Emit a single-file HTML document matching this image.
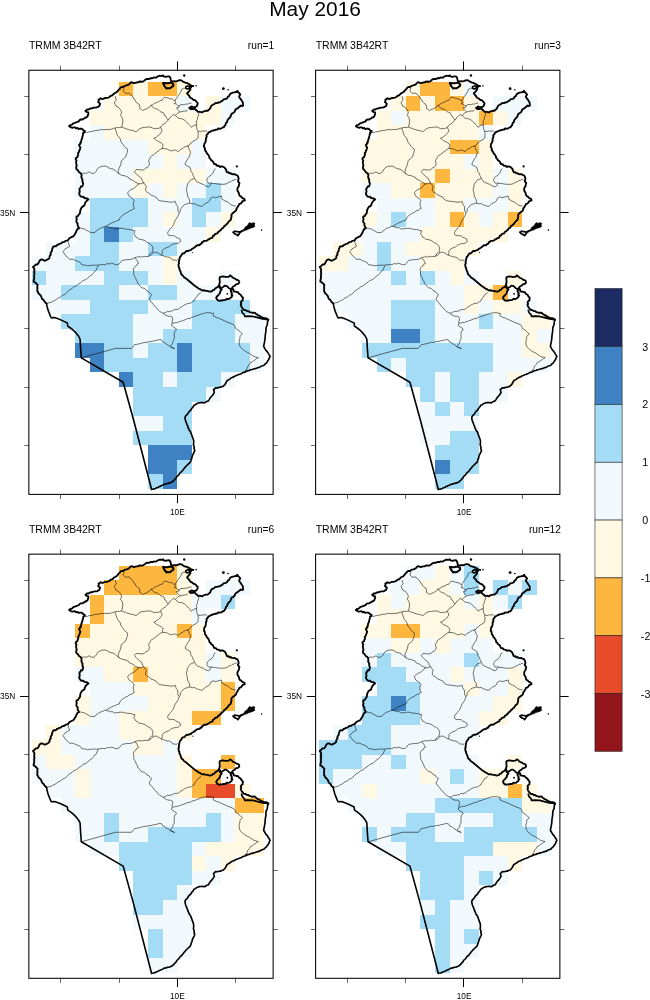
<!DOCTYPE html>
<html><head><meta charset="utf-8"><title>May 2016</title>
<style>
html,body{margin:0;padding:0;background:#fff;}
svg{display:block;}
text{font-family:"Liberation Sans",Arial,Helvetica,sans-serif;fill:#000;}
</style></head>
<body>
<svg width="650" height="1000" viewBox="0 0 650 1000">
<rect width="650" height="1000" fill="#fff"/>
<defs>
<g id="coast" fill="none" stroke="#000" stroke-linejoin="round" stroke-linecap="round">
<path d="M69.3,126.2 70.13,125.1 71.62,124.86 72.62,123.99 73.6,123.06 74.92,122.8 76.13,122.26 77.45,121.83 78.75,121.33 79.67,120.1 80.87,119.42 82.46,119.53 83.51,118.56 84.66,118.45 85.41,117.33 86.6,117.33 87.61,116.27 87.99,114.77 88.48,113.62 88.25,112.4 86.49,111.89 85.44,110.98 87.26,109.41 88.55,109.57 89.67,108.77 90.86,108.37 92.13,108.32 93.49,107.65 94.97,107.55 96.45,107.48 97.49,107.13 98.41,106.47 99.44,106.06 99.57,105.01 100.11,103.84 99.18,102.93 98.17,102.04 98.89,100.65 98.61,99.54 99.72,99.17 100.64,98.26 102,99.04 103.23,98.91 104.46,98.17 105.64,97.98 106.99,97.94 108.22,97.52 109.6,97 110.58,95.86 112.01,95.52 113.17,94.55 114.2,93.43 115.59,92.84 116.84,92.01 117.84,90.96 118.62,89.69 119.7,88.94 120.38,87.69 121.53,87.03 123.01,87.1 124.12,86.33 125.28,85.69 126.64,85.43 127.94,84.95 129.16,84.31 130.04,83.14 131.13,82.26 132.58,82.62 133.94,83.19 135.23,82.79 136.45,82.51 137.69,82.45 138.86,81.84 140.02,81.5 141.44,81.76 142.76,81.66 143.88,80.92 144.97,80.08 146.04,79.23 147.38,78.86 148.72,79.04 149.91,78.55 151.09,78.04 152.42,78.26 153.67,77.53 155,77.7 156.36,77.52 157.34,76.61 158.46,76.23 159.57,75.78 160.78,75.82 162.01,75.99 163.03,75.37 163.76,76.42 164.75,76.66 165.69,76.92 166.78,76.58 167.75,76.45 168.65,76.36 169.61,76.6 170.45,78.05 170.82,80 171.28,81.41 172.87,81.41 174.27,81.24 175.58,81.35 176.92,81.14 178.23,80.63 179.58,80.23 181.54,80.42 183.01,81.64 184.18,82.22 185.4,82.65 186.75,82.85 187.81,83.61 188.95,83.93 189.97,84.7 190.83,85.34 191.81,85.66 193.39,86.06 192.2,85.85 191.23,86.77 189.47,87 189.64,88.3 190.41,89.15 189.24,91.06 188.03,92.26 187.06,93.4 188.3,94.89 189.54,96.31 189.91,97.4 190.88,97.97 192,98.51 192.9,99.35 193.64,100.03 194.74,100.07 195.7,100.77 196.43,101.72 197.73,103.05 197.67,104.07 197.34,105.01 196.49,106.49 195.06,107.01 194.7,108.48 195.66,109.86 197.15,110.84 197.74,111.91 198.85,111.93 200.03,111.75 201.14,112.26 202.34,112.35 203.41,111.44 204.88,111.07 206.18,110.7 207.69,110.72 208.8,109.68 209.71,109.08 210.31,108.04 210.81,106.94 211.47,105.52 213,104.75 213.75,104.33 214.67,103.66 215.59,102.97 217.16,103.05 218.54,102.47 220.02,102.32 221.03,101.4 222.32,100.96 223.15,99.78 224.5,99.16 226.11,98.9 227.29,98 227.76,96.73 228.97,96.3 229.41,95.1 230.57,93.52 231.44,93.31 232.6,92.69 234.13,92.4 235.65,92.03 236.84,92.15 237.27,90.8 238.25,92.21 239.08,93.12 239.62,93.72 240.31,94.52 239.45,95.8 239.16,97.01 239.98,98.2 240.69,99.13 241.34,100.09 241.98,101.1 242.72,102.05 242.93,103.32 243.02,104.47 243.13,105.72 241.73,106.09 240.62,105.52 239.72,106.67 238.57,107.33 237.65,108.29 236.25,108.91 235.2,109.92 234.8,111.57 233.92,112.34 233.05,113.19 231.78,113.69 231.16,114.74 230.69,116.24 229.98,117.55 228.77,118.52 228.01,119.53 227.31,120.56 227.21,121.92 226.13,122.73 225.68,124.07 225.25,125.39 224.19,126.4 223.82,127.34 222.66,127.4 221.45,128.41 219.99,128.74 218.35,128.43 217.34,129.59 215.9,129.58 214.73,130.22 213.48,130.18 212.33,130.85 211.11,131.08 209.98,132.01 208.4,132.48 207.91,133.74 207,134.59 206.44,135.65 206.71,137.2 205.9,138.29 205.92,139.67 205.71,141.07 205.39,142.5 204.32,143.78 204.17,145.27 203.91,146.72 204.79,147.95 204.94,149.27 205.19,150.55 206.19,151.64 206.63,152.95 207.56,154.03 208.48,155.15 209.14,156.49 209.44,158.07 210.54,158.91 211.08,160.16 212.26,160.89 213.22,161.81 213.65,163.15 214.43,164.2 215.99,164.29 216.65,165.53 218,165.75 219.08,165.96 220.15,166.96 221.55,166.38 223.02,166.7 224.5,167.57 225.1,168.28 225.88,169.4 226.26,170.52 226.62,171.66 227.32,172.39 228.58,172.2 229.31,173.36 230.72,173.15 231.81,174.02 233.06,174.25 234.25,174.07 235.29,174.44 236.24,175.06 237.38,175.36 238,176.44 238.54,177.84 238.57,179.38 237.91,181.01 238.89,182.42 239.49,183.16 239.19,184.12 238.9,185.2 238.73,186.31 237.67,187.63 237.37,189.16 237.49,190.81 238.47,192.28 238.95,193.41 239.2,194.82 239.79,195.93 240.92,196.44 241.64,197.36 242.9,198.28 244.37,198.89 244.81,200.33 243.66,200.8 242.44,201.17 241.8,202.4 240.72,203.51 239.27,203.96 238.73,205.27 237.94,206.39 237.33,207.63 236.47,208.49 236.33,209.8 235.79,210.87 234.49,211.83 233.26,212.77 232.12,213.67 231.34,214.88 231.5,216.66 231.1,218.19 230.65,219.99 229.64,220.81 228.63,221.67 227.86,222.81 227.21,223.78 226.23,224.44 225.53,225.38 224.37,225.86 223.89,227.02 223.07,227.84 221.84,228.48 221.29,229.72 220.08,230.44 219.29,231.45 218.03,231.98 217.45,233.35 216.2,233.69 215.03,234.05 214.37,235.28 212.87,235.88 212.57,237.58 210.91,238.08 209.56,238.84 208.52,239.33 207.44,240.22 206.27,240.83 205.12,240.86 203.95,240.89 203.16,241.88 201.98,242.23 201.69,243.58 200.33,243.86 199.72,245.04 198.53,245.25 197.22,245.17 196.17,246.12 195.08,246.86 194.1,247.73 192.97,248.4 191.77,249.06 190.76,250.14 189.41,250.32 188.26,250.99 186.85,250.88 185.81,251.55 185,252.52 184.07,253.29 182.7,253.41 181.99,254.34 181.35,255.35 180.73,256.39 179.85,257.25 179.58,258.48 179.31,259.72 179.04,260.96 178.78,262.21 179.03,263.38 178.4,264.62 178.63,265.85 178.73,267.09 179.47,268.22 179.43,269.51 180.12,270.64 180.62,271.86 180.99,273.14 181.33,274.46 182.49,275.22 183.31,276.25 184.18,277.41 185.47,278.17 186.66,279.03 195,286 196.21,286.84 197.46,287.64 198.61,288.58 199.95,289.02 201.07,289.86 202.28,290.52 203.85,290.25 205.25,290.71 206.69,290.9 207.41,290.89 208.48,291.26 209.61,291.6 210.9,291.54 212.05,291.17 212.97,289.99 214.3,289.75 215.13,288.47 216.3,287.72 217.32,287.12 218.38,286.39 219.04,285.1 219.56,286.83 220.03,288.23 221.69,289.51 220.79,290.68 220.07,291.76 220.12,292.93 219.43,293.78 218.27,295.24 216.86,296.46 216.19,297.99 217.37,299.86 218.42,300.59 219.58,300.83 220.77,300.45 221.92,300.52 222.99,300.12 224.25,300.07 225.65,299.86 226.8,298.8 228.32,299.02 229.68,298.67 230.5,297.75 231.55,297.32 231.61,296.22 232.52,295.47 231.5,294.59 231.99,293.28 231.44,292.39 230.89,291.49 230.73,290.53 231.56,289.7 232.3,288.71 233.34,289.36 233.6,291.27 234.74,291.68 235.74,291.7 236.86,292.12 238.1,292.26 238.77,293.41 239.71,294.22 240.86,294.74 241.3,295.96 242.18,296.9 242.99,297.93 242.67,299.26 242.68,300.44 241.36,301.35 240.74,302.48 241.34,303.91 240.67,304.98 241.05,305.94 241.52,306.85 242.08,307.76 242.89,308.69 243.71,309.82 245.27,309.97 246.14,310.48 247.07,311.1 248.25,311.09 249.58,312.05 251.12,312.41 252.37,312.9 253.77,312.54 255.04,312.87 255.9,313.83 256.99,314.33 257.72,315.3 259.1,315.52 260.16,316.44 261.35,317.07 262.57,317.6 264,318.19 265.55,318.18 267,318.54 268.28,319.84" stroke-width="1.85"/>
<path d="M268.48,319.54 267.83,321.02 267.4,322.56 267.42,324.11 266.99,325.54 266.22,326.87 266.06,328.55 265.89,330.2 265.87,331.86 265.51,333.48 265.3,335.12 265.11,336.76 265.12,338.43 264.78,340.05 264.59,341.7 264.22,343.32 263.88,344.95 263.7,346.59 264.52,347.86 265.18,349.07 265.87,350.26 266.77,351.19 267.59,352.21 268.24,353.37 269.23,354.87 270.13,356.43 269.28,357.93 268.84,359.54 268,360.55 267.31,361.68 266.57,362.77 265.21,363.91 264.05,365.21 262.69,365.69 261.35,366.08 260.19,366.84 259.06,367.53 257.7,367.66 256.49,368.17 255.27,368.66 253.62,368.98 251.99,369.46 250.34,369.86 249.08,370.55 247.65,370.73 246.33,371.22 245.14,372.07 243.8,372.32 242.57,372.86 241.39,373.5 240.14,373.99 238.92,374.53 237.61,374.85 236.46,375.57 235.17,375.94 233.83,376.89 232.27,377.4 230.83,378.13 229.7,379.15 228.44,379.92 227.11,380.6 226.21,382.25 225.39,383.85 224.25,385.18 222.98,386.37 221.66,386.63 220.51,387.29 219.17,387.35 217.4,387.84 215.52,387.71 214.68,388.84 213.53,389.46 213.9,391.07 214.31,392.46 213.38,394 212.4,395.5 211.2,396.74 210.07,398.07 209.2,399.62 208.14,401.08 206.83,401.41 205.67,402.09 204.54,402.87 202.62,402.52 200.77,402.57 199.2,402.72 197.71,403.32 196.4,403.8 195.34,404.83 193.96,405.31 193.32,406.52 192.57,407.61 191.54,408.5 191.08,409.8 189.89,410.91 188.74,412.04 187.95,413.46 187.02,414.7 185.81,415.73 185.05,417.1 185.09,418.94 185.61,420.75 186.06,422.18 186.76,423.58 187.15,425.11 187.89,426.24 187.94,427.62 188.84,428.69 188.97,430.04 189.98,430.9 190.59,432 191.07,433.19 193.5,440 193.67,441.53 193.66,443.07 193.4,444.6 193.83,446.04 194.27,447.46 194.08,449 194.77,450.37 194.24,451.94 193.52,453.33 192.82,454.73 192.19,456.16 191.91,457.84 191.23,459.38 190.8,461.01 190.02,462.51 188.68,463.62 187.46,464.85 186.17,466.01 185.29,467.14 184.33,468.19 183.46,469.32 182.63,470.47 181.69,471.58 180.51,472.46 179.6,473.6 178.88,474.69 177.92,475.61 176.93,476.5 176.2,477.97 174.99,479.05 174.04,480.34 172.97,481.12 172.06,482.09 170.78,482.59 169.41,483.19 167.84,483.33 166.63,483.71 165.44,484.19 164.14,484.22 162.99,484.97 161.78,485.56 160.56,486.12 159.3,486.61 158.1,487.31 156.74,487.76 155.54,488.49 154.19,488.96 152.93,489.14 151.57,489.3" stroke-width="1.65"/>
<path d="M151.6,489.54 133.6,420 123.2,382.2 81.3,357.85 80.92,352.62 80.55,347.69 80.31,342.77 80.06,339.08 78.46,336 76,332.92 73.54,330.46 70.46,328 67.75,326.15 67.38,323.08 64.92,321.85 61.85,320.37 58.15,318.77 54.46,317.54 51.38,317.91 50.52,316.31 49.29,313.23 48.06,310.15 47.08,306.46 46.46,303.38" stroke-width="1.6"/>
<path d="M46.46,303.38 45.43,302.52 44.51,301.58 43.92,300.37 42.91,299.5 42.02,298.53 41.46,297.29 41.05,295.94 40.13,294.99 39.29,293.98 38.3,293.26 38.05,292.09 37.28,291.18 37.34,289.5 37.46,287.95 37.26,286.52 37.65,284.84 36.54,283.77 35.6,282.86 34.8,282.02 33.56,281.59 33.78,279.82 34.28,278.33 34.2,276.74 34.13,275.19 34.52,273.78 34.12,272.05 34.44,270.6 34.32,269.06 33.73,267.97 32.99,266.98 34.75,265.61 35.79,264.54 37.45,264.52 38.45,263.14 39.12,261.72 39.84,260.34 41.25,259.47 42.76,259.67 43.87,260.39 45.12,260.79 46.46,259.98 47.66,259.4 48.68,258.82 49.5,257.95 49.52,256.69 49.96,255.49 50.85,254.63 50.55,253.32 50.96,252.29 51.94,250.95 52.04,249.32 52.65,248.16 52.95,246.91 54.28,246.28 55.86,246.41 56.79,245.09 58.11,244.71 59.25,243.95 60.68,243.68 61.74,242.71 63.01,242.12 64.41,241.9 65.46,240.93 66.79,240.57 68.22,240.06 69.01,238.59 70.22,237.75 71.54,237.09 73.09,236.48 74.22,235.32 74.87,233.84 75.86,232.67 76.13,231.43 76.82,230.3 77.51,228.95 78.97,228.36 78.53,227.18 77.96,226.34 77.65,225.05 77.69,223.49 76.45,222.09 76.41,220.5 76.77,218.83 76.27,217.33 76.86,216.4 78.16,215.85 78.87,214.38 79.94,213.27 80.18,211.3 80.5,209.76 81.18,208.29 81.9,207.13 83,206.38 84.37,205.51 84.78,203.9 85.45,202.48 86.41,201.27 87.24,200.25 88.49,199.48 87.28,198.56 85.79,198.23 84.2,197.99 83.46,196.74 82.23,196.85 81.12,196.64 80.07,195.52 79.27,194.41 79.3,192.92 79.81,191.69 79.47,190.11 79.54,188.57 80.61,187.57 81.01,186.39 82.43,186.32 82.87,184.98 82.98,184.18 83.1,183.05 82.37,181.56 82.56,179.89 81.82,178.46 81.35,176.96 81.64,175.68 81.39,174.41 80.56,173.03 79.25,172.39 78.36,171.05 77.5,169.95 76.31,168.92 76.16,167.29 76.68,165.8 76.46,164.66 76.23,163.43 76.05,162.19 76.49,160.57 75.58,159.12 76.08,157.85 77.39,157.22 77.6,156.03 78.33,154.56 78.05,152.9 78.93,152.05 79.11,150.93 79.65,149.96 80.1,148.71 80.36,147.38 79.5,146.3 79.11,145.03 80.33,143.86 80.98,142.64 80.04,143.8 80.51,142.59 81.03,141.41 81.38,140.2 81.62,139.18 82.19,138.22 82.34,137.09 82.77,135.57 83.1,134.04 83.25,132.87 84.36,132.14 84.92,131.13 83.24,130.24 82.45,129.12 81.21,128.76 79.9,128.67 78.53,129.03 77.46,127.95 76.08,128.46 75.01,127.39 73.72,127.44 72.37,127.79 71.16,127.43 70.03,126.73 69.35,126.15" stroke-width="1.85"/>
<path d="M163.08,83.08 163.47,84.04 163.98,84.95 164.35,86 165.13,86.84 165.78,87.6 166.35,88.52 167.71,88.14 168.86,88.35 170.03,88.18 171.07,87.45 171.86,86.77 172.98,86.29 173.43,85.28 173.36,84.2 172.18,83.21 171.4,82.61 170.36,82.79 169.22,82.9 168.07,83.17 166.91,83.3 165.74,83.29 164.26,83.1 163.11,82.97Z" stroke-width="2.0" fill="none"/>
<path d="M185.77,86.77 186.88,86.24 188.08,86 189.34,85.95 190.52,86.5 191,87.34 189.75,88.67 188.51,88.59 187.32,89.06 185.73,88.05 185.91,86.78Z" stroke-width="1.6" fill="none"/>
<path d="M189.3,107.9 190.77,107.13 191.57,106.53 192.61,106.83 194.2,107.19 194.14,108.35 192.82,109.05 191.7,108.75 190.6,109.2 189.49,107.67Z" stroke-width="1.9" fill="none"/>
<path d="M219.62,277.31 220.61,276.91 221.64,276.59 222.89,276.43 224.22,276.67 225.54,276.99 226.92,276.93 228.11,276.79 229.26,276.51 229.82,275.46 230.72,275.72 231.64,276.37 232.53,277.56 233.77,278.2 235.27,278.73 236.47,279.75 237.78,280.02 238.89,280.69 239.07,281.72 239.39,282.66 237.82,284.02 236.73,284.23 235.74,284.54 235.08,285.46 234.16,286.08 232.52,287.08 231.73,288.65 230.42,288.98 229.09,288.28 227.75,286.84 226.12,285.81 224.62,285.66 223.55,286.66 222.19,287.57 220.73,287.93 219.6,286.94 219.62,285.92 219.07,285.03 219.33,283.83 219.89,282.74 219.65,281.51 219.79,280.35 219.53,278.88 219.72,277.3Z" stroke-width="1.8" fill="none"/>
<path d="M233,232.23 234.04,231.99 234.75,231.12 236.08,231.5 237.31,231.61 238.68,231.96 240.08,231.67 241.14,231.19 242.25,230.73 241.36,231.67 240.21,232.37 239.43,233.48 238.74,234.61 237.76,235.66 236.84,234.65 235.78,234.35 234.26,233.41 233.02,232.21Z" stroke-width="1.7" fill="none"/>
<path d="M242.54,230.69 243.27,229.46 244.59,228.72 244.83,227.5 245.74,226.77 246.76,226.08 247.74,225.27 248.47,223.85 249.42,222.64 250.45,223.04 251.4,223.39 252.47,223 253.44,222.71 254.88,223.43 254.22,224.88 254.92,226.27 253.64,227.22 251.94,227.78 250.2,228.35 248.98,228.71 247.85,229.41 246.61,229.91 245.25,230.27 244.31,230.84 243.25,231.19 242.37,230.89Z" stroke-width="0.7" fill="#000"/>
<path d="M245.31,228.85 247.77,227.31 249.62,225.46 252.08,224.23 253.92,223.62" stroke-width="1.6"/>
<path d="M241.52,310.31 242.38,312.77 244.23,314.62 244.85,316.46 247.92,316.22 252.85,316.46 257.77,317.69 262.69,318.92 267.62,319.54" stroke-width="1.7"/>
<circle cx="184.23" cy="75.54" r="1.2" fill="#000" stroke="none"/>
<circle cx="196.15" cy="85.77" r="0.8" fill="#000" stroke="none"/>
<circle cx="223.38" cy="88.71" r="1.4" fill="#000" stroke="none"/>
<circle cx="228.06" cy="89.69" r="0.8" fill="#000" stroke="none"/>
<circle cx="236.85" cy="166.46" r="1.1" fill="#000" stroke="none"/>
<circle cx="261.62" cy="230.08" r="0.8" fill="#000" stroke="none"/>
<circle cx="192.83" cy="252.31" r="0.6" fill="#000" stroke="none"/>
<circle cx="227.31" cy="293.85" r="0.9" fill="#000" stroke="none"/>
</g>
<g id="gov" fill="none" stroke="#111" stroke-width="0.6" stroke-linejoin="round">
<path d="M123.85,86.92 123.78,88.91 123.12,90.78 124.06,92.1 125.25,93.21 127.3,93.29 129.23,93.02 130.19,94.42 131.52,95.4 133.02,97.11 133.88,99.21 135.29,100.1 135.87,101.81 137.41,103.36 139.33,104.52 139.78,106.51 139.76,108.51 141.34,109.43 142.51,110.57 144.13,109.74 146.1,109.1 147.76,108.17 149.48,107.25 150.61,105.56 152.56,104.95 154.26,103.51 156.34,102.62 158.4,101.89 160.05,100.64 162.05,100.37 163.15,98.62 164.46,97.16 166.63,97.61 168.44,98.17 170.29,98.68 172.26,99.05 173.45,100.07 174.81,100.59 176.15,98.68 177.66,96.52 179.2,94.29 180.78,92.12 181.57,89.45 183.73,88.27 185.65,88.18"/>
<path d="M115.38,96.15 115.69,98.09 116.42,99.95 115.01,101.35 114.28,102.91 115.41,104.6 116.02,106.22 117.84,107.1 119.38,108.26 120.54,109.89 121.4,111.64 121.41,113.51 120.35,115.3 121.9,117.16 122.57,119.13 122.91,121.11 122.53,123.11 122.27,125.04 121.56,126.93"/>
<path d="M84.62,133.08 86.08,132.39 87.72,132.41 89.16,131.64 90.82,131.73 92.84,131.23 94.85,130.62 96.94,130.41 98.98,130.16 100.99,129.49 103.08,129.72 105.14,129.64 107.18,129.4 109.26,129.57 111.32,129.08 113.31,128.4 115.34,127.91 117.37,127.41 119.54,127.6 121.57,127.09 123.42,127.78 125.4,128.41 127.3,129.23 129.32,129.77 131.15,130.41 133.14,130.46 134.59,131.26 136.12,131.65 137.78,130.51 139.09,129.05 141.02,128.12 143.02,127.55 144.64,127.6 146.15,127.19 147.73,127.14 150,126.95 152.34,127.86 153.58,128.75 155.17,128.58 156.42,128.37 157.86,128.48 159.27,128.05 160.6,127.41 161.59,125.65 162.66,124.66 163.94,123.9 165.22,123.13 166.34,122.16 168.1,120.18"/>
<path d="M115.38,128.15 115.34,129.94 116.19,131.53 116.74,133.53 117.49,135.46 119.07,137.17 120.33,139.03 120.68,141.19 121.86,142.95 123.15,144.54 124.37,146.4 125.75,147.91 127.64,149 127.6,150.81 127.32,152.33 126.63,153.82 126.14,155.99 124.83,157.82 123.29,159.13 121.74,160.27 121.13,161.53 121.05,163.15 120.46,165.02 119.79,166.88 118.89,168.76 118.22,170.8 118.45,172.4 119.17,173.87"/>
<path d="M151.39,104.85 152.22,106.5 153.43,107.83 155.45,108.73 157.5,109.25 158.86,110.27 160.05,111.48 161.42,112.26 163.12,112.31 164.1,113.92 164.47,115.67 165.96,116.41 166.51,117.87 168.14,120.01"/>
<path d="M168.01,120.09 169.2,119.15 169.74,117.7 170.98,116.79 172.02,115.72 173.47,114.4 175.28,115.69 176.45,114.43 177.51,113.38 179.47,112.13 181.94,111.53 184.16,111 186.5,110.99 187.79,109.82"/>
<path d="M174.93,100.24 175.67,102.61 174.21,103.68 176.2,103.97 177.59,105.23 179.42,106.04 180.71,104.52 183.29,104.66 184.64,104.57 185.99,103.93 187.5,104.25 188.75,103.35 190.16,103.2 191.57,103.15"/>
<path d="M179.55,105.78 178.81,107.29 176.76,107.55 177.35,109.24 178.51,110.47 179.56,111.77"/>
<path d="M175.39,115.47 177.05,117.12 178.08,118.05 179.44,118.56 180.97,118.6 182.38,118.97 184.77,120.32 186.74,122.13 188.5,124.06 190.36,125.9 191.37,127.27 193.28,125.84 195.12,124.92 196.34,125.04 196.77,123.38 196.28,121.87 196.7,120.52 197.52,119.23 197.46,117.74 198.12,116.43 198.55,115.05 198.88,113.65 198.55,112.45"/>
<path d="M196.17,124.7 196.6,126.05 196.67,127.46 196.82,128.86 197.44,130.18 198.01,131.17 200.32,131.58 201.71,131.13 203.09,131 205.43,130.97 207.07,131.13"/>
<path d="M198.01,131.17 197.86,132.62 198.58,133.92 197.96,135.28 198.23,136.75 197.57,138.55 195.35,140.11 192.92,141.3 192.02,142.55 190.68,143.23 189.37,145.12 187.63,146.28 185.52,146.55 183.69,147.36 182.45,148.74 180.72,149.12 179.6,150.37 178.51,151.59 176.57,150.69 174.67,149.87 172.73,150.58 170.79,150.89 169.23,150.25 167.83,149.32 166.27,148.86 164.28,148.6 162.3,148.5"/>
<path d="M160.62,127.47 161.75,129.93 162.03,131.21 161.15,132.48 159.7,134.4 158.6,135.4 157.32,136.17 156.14,137.21 154.74,137.88 153.72,138.15 155.71,139.77 156.86,140.77 158.34,141.26 159.75,142.16 161.19,143 162.39,143.9 163.27,145.17 162.5,146.63 162.44,148.5 160.24,149.38 158.55,150.91 157.03,151.61 156.05,153.01 154.58,153.8 153.39,154.94 151.85,155.64 150.62,156.74 149.9,158.67 148.75,160.22 148.88,161.92 149.48,163.8 148.68,165.86 147.31,167.54 145.62,168.09 144.01,169.63 142.01,170.04 139.98,169.89 138.07,169.6 136.15,169.65 134.5,171.42 135.6,173.21 136.93,174.61 138.47,175.76 139.81,177.18 141.44,178.25 142.18,180.1 142.9,181.63 144.13,182.94 142.27,183.1 140.82,183.89 139.16,183.43"/>
<path d="M187.69,145.38 188.48,147.3 189.09,149.29 189.9,150.82 190.61,152.39 190.03,153.76 189.78,155.32 189.09,157.1 187.89,158.61 186.96,160.02 186.24,161.58 185.36,162.98 185.18,164.57 186.94,165.62 188.53,166.56 190.14,167.49 190.68,169.65 191.19,171.68 192.59,173.35 193.12,175.36 193.98,176.86 194.53,178.5 193.13,179.06 191.63,179.61 190.27,180.27 189.35,181.66 188.34,183.02 187.36,184.46 187.23,186.53 186.56,188.39 186.5,190.36 187.01,192.34 187.38,194.17 187.55,196.19 188.48,198.07 189.64,199.83 189.5,201.64 190.18,203.12"/>
<path d="M81.54,173.85 83.38,173.05 85.45,173.4 87.34,172.89 89.14,171.88 91.14,173.12 93.17,173.63 94.86,172.55 96.38,170.99 97.16,169.12 98.53,167.74 100,167.07 101.47,166.28 103.46,166.24 105.37,166.06 107.32,166.89 109.08,168.07 111.07,168.8 113.26,169.17 115.06,170.42 116.73,171.91 117.91,172.86 119.16,173.92 120.71,174.73 122.24,175.53 123.92,175.47 125.4,176.07 127.01,176.74 128.58,177.44 129.49,178.97 131.07,179.7 132.38,180.1 133.8,180.95 135.17,182.21 137.03,182.94 139.13,184.15"/>
<path d="M143.85,183.08 145.2,184.88 146.46,186.73 145.62,188.82 145.61,190.82 146.85,192.01 148.65,192.83 150.16,194.6 152.23,195.52 154.33,196.38 156.35,197.35 157.24,198.95 158.49,200.02 160.09,200.66 160.95,200.93 168.46,201.85 170.19,202.28 171.92,202.2 173.65,201.82 175.38,201.5 175.84,203.38 176.33,204.9 177.54,206.07 177.86,207.92 177.77,209.81 178.24,211.58 179.49,212.63"/>
<path d="M139.23,183.85 137.48,184.71 136.31,186.37 134.82,187.58 133.29,188.74 131.4,189.43 129.81,190.51 128.53,191.61 127.58,192.97 128.35,194.67 129.08,196.23 130.78,197.29 132.28,198.49 133.35,199.44 134.19,200.54 133.36,202.67 133.27,204.6 133.68,206.65 134.41,208.52 133.04,209.16 131.67,210.27 129.44,210.87 127.68,212.29 125.6,213.18 123.72,214.4 122.16,215.56 120.7,216.82 119.76,218.34 119.29,220.03 117.23,220.59 115.37,221.52 113.8,222.22 112.12,222.7 110.61,223.54 109.14,224.44 107.65,225.3 106.26,226.37 104.52,226.37 103.1,227.25 101.58,227.8 99.45,228.57 97.7,230.02 96.05,231.01 94.79,232.54 93.02,232.47 91.44,232.68 90.05,232.22 88.6,231.26 86.57,230.33 84.72,229.06 82.68,228.66 80.72,228.16 78.49,227.46"/>
<path d="M106.15,226.15 107.6,226.94 109.2,227.26 110.71,227.88 112.42,227.67 113.81,228.64 115.32,229.13 117.3,228.67 119.23,228.45 121.16,228.23 123.08,228.38 124.6,228.79 126.1,229.3 127.68,229.29 129.62,229.57 131.57,229.84 133.02,230.61 134.66,230.61 134.62,232.41 133.8,233.84 134.99,235.39 135.91,237.1 137.72,238.03 139.13,239.36 141.18,239.49 143.08,239.99 145.2,240.83 146.94,242.28 148.98,243.24 150.81,244.55 152.09,246.03 152.93,247.8 152.81,249.64 152.39,251.56 151.2,252.74 149.92,253.77 149.31,255.05 148.27,256.02"/>
<path d="M194.62,178.46 195.59,179.9 196.42,181.41 197.73,182.23 199.37,182.81 201.19,183.77 203.21,184.3 204.6,185.41 206.12,186.2 208.5,186.79 209.81,185.97 210.47,184.32 211.92,183.27"/>
<path d="M215.38,168.46 214.07,170.29 213.33,172.46 212.21,174.06 210.87,175.45 209.09,176.34 207.8,177.83 206.97,179.15 206.83,180.75 207.68,181.93 208.38,183.13 210,183.14 211.54,183.1 213.44,183.51 215.37,183.55 217.3,184.01 219.37,184.2 221.16,184.36 223.08,184.29 225.13,184.17 227.07,183.46 228.8,182.21 230.86,181.75 232.13,180.42 233.99,180.28 235.04,179.24 236.54,179.51"/>
<path d="M190.31,203.08 192.4,203.84 194.67,203.57 196.45,204.85 198.45,205.41 200.3,206.19 202.3,206.2 203.81,204.95 205.15,203.55 206.88,202.64 208.71,201.87 209.97,200.26 210.59,198.33 212.51,197.12 213.91,197.05 215.36,197.76 217.29,197.22 219.19,196.7 221.52,196.09 221.72,197.74 222.15,199.27 223.93,200.27 225.58,201.27 227.03,201.5 228.37,202.68 229.6,203.48 230.77,204.62 232.34,205.32 234.01,205.83 235.85,205.91"/>
<path d="M190.31,203.08 188.23,203.45 186.2,204.13 184.37,204.67 183.01,206.05 181.86,207.64 180.45,208.99 180.34,211.29 178.99,212.98 178.68,214.73 177.89,216.25 177.06,217.76 175.96,219.13 175.03,220.59 174.45,222.23 173.61,224.31 172.6,226.32 171.43,227.55 170.46,228.88 169.23,230 168.22,231.54 167.52,233.27 168.69,235.26 170.38,235.72 172.31,235.56 174.37,235.81 176.03,237.23 178.1,238.04 180.05,239.14 180.51,241.63 179.52,242.17 178.49,243.13 176.56,243.57 174.61,243.81 172.58,244.34 170.7,245.21 169.4,246.48 167.88,247.3 166.21,247.8 164.71,248.63 163.29,249.44 162.24,250.7 162.37,252.36 161.87,253.85 161.47,255.37"/>
<path d="M67.38,240.77 68.34,242.17 68.55,243.88 69.32,245.04 69.52,246.48 68.26,247.14 66.76,248.13 65.3,248.76 64.43,250.15 62.82,251.68 64.06,253.04 64.79,254.4 65.85,255.84 67.18,256.97 68.55,258.07 69.66,259.42 72.06,259.12 74.16,259.79 75.9,260.77 77.78,261.3 79.11,261.96 80.46,262.72 81.65,264.69 83.47,265.01 85.43,265.04 87.43,265.77 89.49,265.51 91.54,265.41 93.59,265.09 95.64,265.22 97.69,265.3 99.18,264.81 100.75,264.73 102.29,264.5 103.87,264.68 105.42,264.67 106.88,263.71 108.42,263.62 110.04,264.06 111.48,263.1 113.52,263.87 115.36,264.67 116.92,264.65 118.46,264.37 119.8,263.22 120.92,261.65 122.11,260.37 123.94,260.17 125.89,259.74 127.95,259.69 130.01,259.61 131.58,259.16 133.17,258.77 134.53,257.73 136.09,257.37 137.63,257.02 139.16,256.64 140.8,257.03 142.34,256.94 143.84,256.34 145.4,256.52 146.94,256.52 148.48,256.47 150.11,255.6 151.57,254.69 152.53,253.61 152.95,252.22 154.62,252.39 156.15,252.1 157.73,253 159.28,253.75 160.39,254.61 161.79,255.01 163.48,255.87 165.38,256.46 167.26,257.06 169.21,257.11 170.61,257.85 171.61,259.16 172.99,260.06 174.76,260.11 176.2,260.55 177.63,259.6"/>
<path d="M98.46,265.38 97.68,266.92 96.84,268.42 96.31,270.08 94.82,271.04 93.94,272.44 92.9,273.7 91.82,274.9 90.33,275.66 89.1,276.76 87.65,277.88 86.35,279.27 84.64,280.04 82.85,280.67 81.51,282.01 80.06,283.17 78.4,284.01 77.1,285.39 75.47,286.28 73.7,286.97 72.32,288.22 70.83,289.31 68.96,290.19 67.68,291.78 66.18,293.11 64.82,294.42 63.03,295.05 61.54,296.15 60.11,297.34 58.24,297.88 56.86,299.14 54.98,300.35 52.91,301.26 51.19,302.4 49.07,302.68 47.88,303.3 46.65,303.95"/>
<path d="M134.62,258 136.08,259.13 137.21,260.53 137.76,262.11 138.77,263.37 137.08,264.18 136.41,265.71 134.98,266.51 133.96,267.8 133.3,269.58 133.68,271.58 133.76,273.44 134,275.36 134.82,276.82 135.78,278.26 136.2,279.97 137.25,281.37 137.61,283.12 138.81,284.45 139.73,285.65 140.8,286.89 142.15,288.02 144.01,288.13 145.58,289.36 146.76,290.98 148.31,291.18 149.02,292.62 150.34,293.51 151.69,294.47 150.48,296.82 149.8,297.94 149.35,299.31 149.77,300.54 150.99,301.39 151.86,302.76 153.06,303.87 154.01,305.55 155.51,306.82 156.6,308.01 157.52,309.4 158.84,310.39 159.88,311.66 161.48,312.42 163.01,313.21 164.4,314.51 166.16,315.37 167.64,316.06 169.27,316.35 170.83,316.27 172.28,317.15 172.82,318.42 172.48,320.04 172.17,321.49 172.17,323.06 171.5,325.51 173.17,326.81 174.28,327.61 175.59,328.14 176.49,329.98 174.58,331.49 174.38,333.12 174.12,334.69 174.45,336.1 174.2,337.71 174.1,339.39 173.2,340.82 172.93,342.37 172.28,343.84 171.37,344.89 170.46,345.95 171.86,347.02 172.83,348.06 174.43,348.83"/>
<path d="M163.08,313.08 164.75,312.96 166.17,312.09 167.6,311.26 169.3,311.7 170.76,310.95 172.35,311.03 173.71,309.86 175.29,309.46 177.05,309.63 178.95,308.72 180.61,307.29 182.3,306.52 183.81,305.33 185.68,304.39 187.56,303.52 189.58,303.3 191.48,302.76 192.5,301.73 194.08,301 194.9,299.15 196,297.58 197.23,296.1 198.18,294.41 199.87,293.72 200.78,292.32"/>
<path d="M172.31,323.08 174.15,323.18 175.86,322.32 177.73,322.58 179.17,321.63 180.84,321.49 182.27,320.64 184.27,320.09 186.19,319.33 187.99,318.41 190.04,318.64 191.4,317.41 193.08,316.92 195.11,316.42 196.97,315.49 198.91,315.06 200.72,314.13 202.3,313.89 203.77,313.22 205.38,313.07 206.87,312.51 208.52,312.94 209.97,312.11 210.93,313.45 213.46,313.17 213.52,314.5 213.11,315.85 214.94,316.73 216.43,317.6 218.21,317.89 219.76,318.65 227,322 233.77,324.71 235.05,326.24 235.39,328.27 236.8,329.24 238.32,329.92 239.33,331.21 240.83,332.48 242.39,333.68 241.24,335.17 239.94,336.53 239.91,338.64 239.19,340.43 239.19,342.32 239.25,344.17 239.99,346.61 241.33,347.88 242.66,349.24 244.14,350.42 245.74,351.54 247.48,352.41 249.28,353.18 250.74,354.49 252.43,355.44 253.99,356.61 256.24,357.04 258.36,357.75 256.73,358.43 255.4,359.69 253.73,360.67 252.21,361.9 250.42,362.68 249.39,364.62 247.83,366.25 247.26,368.28 246.2,370.06 244.54,371.06"/>
<path d="M81.32,357.85 115.54,348.37 131.54,348.37 132.62,347.16 133.65,345.91 134.59,344.6 136.69,344.39 138.72,343.88 140.77,343.52 142.76,342.83 144.81,342.4 146.94,342.42 148.9,341.54 151.06,341.65 153.09,341.11 154.59,340.6 156.21,340.59 157.67,339.9 159.61,339.7 161.57,339.81 162.33,340.92 163.07,342.32 164.82,342.68 166.1,343.95 167.8,344.86 169.4,345.92 170.32,347.02 171.59,347.62 173.14,347.85 174.64,348.39"/>
</g>
</defs>
<text x="315.1" y="15.7" font-size="20.9" text-anchor="middle">May 2016</text>
<g shape-rendering="crispEdges"><rect x="119" y="82" width="14" height="14" fill="#fdb63e"/>
<rect x="133" y="82" width="15" height="14" fill="#fff9e4"/>
<rect x="148" y="82" width="29" height="14" fill="#fdb63e"/>
<rect x="177" y="82" width="15" height="14" fill="#fff9e4"/>
<rect x="104" y="96" width="73" height="15" fill="#fff9e4"/>
<rect x="177" y="96" width="15" height="15" fill="#f2f9fd"/>
<rect x="206" y="96" width="15" height="15" fill="#fff9e4"/>
<rect x="221" y="96" width="29" height="15" fill="#f2f9fd"/>
<rect x="90" y="111" width="131" height="14" fill="#fff9e4"/>
<rect x="221" y="111" width="14" height="14" fill="#f2f9fd"/>
<rect x="90" y="125" width="14" height="15" fill="#f2f9fd"/>
<rect x="104" y="125" width="102" height="15" fill="#fff9e4"/>
<rect x="75" y="140" width="73" height="14" fill="#f2f9fd"/>
<rect x="148" y="140" width="44" height="14" fill="#fff9e4"/>
<rect x="192" y="140" width="14" height="14" fill="#f2f9fd"/>
<rect x="75" y="154" width="88" height="15" fill="#f2f9fd"/>
<rect x="163" y="154" width="14" height="15" fill="#fff9e4"/>
<rect x="177" y="154" width="29" height="15" fill="#f2f9fd"/>
<rect x="75" y="169" width="58" height="14" fill="#f2f9fd"/>
<rect x="133" y="169" width="73" height="14" fill="#fff9e4"/>
<rect x="206" y="169" width="29" height="14" fill="#f2f9fd"/>
<rect x="75" y="183" width="58" height="15" fill="#f2f9fd"/>
<rect x="133" y="183" width="15" height="15" fill="#fff9e4"/>
<rect x="148" y="183" width="15" height="15" fill="#f2f9fd"/>
<rect x="163" y="183" width="14" height="15" fill="#fff9e4"/>
<rect x="177" y="183" width="29" height="15" fill="#f2f9fd"/>
<rect x="206" y="183" width="15" height="15" fill="#a4dcf6"/>
<rect x="221" y="183" width="14" height="15" fill="#f2f9fd"/>
<rect x="90" y="198" width="58" height="14" fill="#a4dcf6"/>
<rect x="148" y="198" width="44" height="14" fill="#f2f9fd"/>
<rect x="192" y="198" width="29" height="14" fill="#a4dcf6"/>
<rect x="221" y="198" width="14" height="14" fill="#f2f9fd"/>
<rect x="75" y="212" width="15" height="15" fill="#f2f9fd"/>
<rect x="90" y="212" width="58" height="15" fill="#a4dcf6"/>
<rect x="148" y="212" width="15" height="15" fill="#f2f9fd"/>
<rect x="163" y="212" width="14" height="15" fill="#fff9e4"/>
<rect x="177" y="212" width="15" height="15" fill="#f2f9fd"/>
<rect x="192" y="212" width="14" height="15" fill="#a4dcf6"/>
<rect x="206" y="212" width="15" height="15" fill="#f2f9fd"/>
<rect x="221" y="212" width="14" height="15" fill="#fff9e4"/>
<rect x="75" y="227" width="15" height="15" fill="#f2f9fd"/>
<rect x="90" y="227" width="14" height="15" fill="#a4dcf6"/>
<rect x="104" y="227" width="15" height="15" fill="#3f82c3"/>
<rect x="119" y="227" width="14" height="15" fill="#a4dcf6"/>
<rect x="133" y="227" width="73" height="15" fill="#f2f9fd"/>
<rect x="206" y="227" width="15" height="15" fill="#fff9e4"/>
<rect x="46" y="242" width="44" height="14" fill="#f2f9fd"/>
<rect x="90" y="242" width="29" height="14" fill="#a4dcf6"/>
<rect x="119" y="242" width="29" height="14" fill="#f2f9fd"/>
<rect x="148" y="242" width="29" height="14" fill="#a4dcf6"/>
<rect x="177" y="242" width="15" height="14" fill="#f2f9fd"/>
<rect x="32" y="256" width="43" height="15" fill="#f2f9fd"/>
<rect x="75" y="256" width="44" height="15" fill="#a4dcf6"/>
<rect x="119" y="256" width="44" height="15" fill="#f2f9fd"/>
<rect x="163" y="256" width="14" height="15" fill="#fff9e4"/>
<rect x="32" y="271" width="14" height="14" fill="#a4dcf6"/>
<rect x="46" y="271" width="58" height="14" fill="#f2f9fd"/>
<rect x="104" y="271" width="44" height="14" fill="#a4dcf6"/>
<rect x="148" y="271" width="15" height="14" fill="#f2f9fd"/>
<rect x="163" y="271" width="14" height="14" fill="#fff9e4"/>
<rect x="177" y="271" width="15" height="14" fill="#f2f9fd"/>
<rect x="221" y="271" width="14" height="14" fill="#f2f9fd"/>
<rect x="32" y="285" width="29" height="15" fill="#f2f9fd"/>
<rect x="61" y="285" width="58" height="15" fill="#a4dcf6"/>
<rect x="119" y="285" width="29" height="15" fill="#f2f9fd"/>
<rect x="148" y="285" width="29" height="15" fill="#a4dcf6"/>
<rect x="177" y="285" width="44" height="15" fill="#f2f9fd"/>
<rect x="46" y="300" width="44" height="14" fill="#f2f9fd"/>
<rect x="90" y="300" width="58" height="14" fill="#a4dcf6"/>
<rect x="148" y="300" width="44" height="14" fill="#f2f9fd"/>
<rect x="192" y="300" width="58" height="14" fill="#a4dcf6"/>
<rect x="61" y="314" width="72" height="15" fill="#a4dcf6"/>
<rect x="133" y="314" width="59" height="15" fill="#f2f9fd"/>
<rect x="192" y="314" width="43" height="15" fill="#a4dcf6"/>
<rect x="235" y="314" width="29" height="15" fill="#f2f9fd"/>
<rect x="75" y="329" width="58" height="14" fill="#a4dcf6"/>
<rect x="133" y="329" width="30" height="14" fill="#f2f9fd"/>
<rect x="163" y="329" width="72" height="14" fill="#a4dcf6"/>
<rect x="235" y="329" width="29" height="14" fill="#f2f9fd"/>
<rect x="75" y="343" width="29" height="15" fill="#3f82c3"/>
<rect x="104" y="343" width="29" height="15" fill="#a4dcf6"/>
<rect x="133" y="343" width="15" height="15" fill="#f2f9fd"/>
<rect x="148" y="343" width="29" height="15" fill="#a4dcf6"/>
<rect x="177" y="343" width="15" height="15" fill="#3f82c3"/>
<rect x="192" y="343" width="58" height="15" fill="#a4dcf6"/>
<rect x="250" y="343" width="14" height="15" fill="#f2f9fd"/>
<rect x="90" y="358" width="14" height="14" fill="#3f82c3"/>
<rect x="104" y="358" width="73" height="14" fill="#a4dcf6"/>
<rect x="177" y="358" width="15" height="14" fill="#3f82c3"/>
<rect x="192" y="358" width="58" height="14" fill="#a4dcf6"/>
<rect x="250" y="358" width="14" height="14" fill="#f2f9fd"/>
<rect x="119" y="372" width="14" height="15" fill="#3f82c3"/>
<rect x="133" y="372" width="30" height="15" fill="#a4dcf6"/>
<rect x="163" y="372" width="14" height="15" fill="#f2f9fd"/>
<rect x="177" y="372" width="44" height="15" fill="#a4dcf6"/>
<rect x="221" y="372" width="14" height="15" fill="#f2f9fd"/>
<rect x="133" y="387" width="73" height="15" fill="#a4dcf6"/>
<rect x="206" y="387" width="15" height="15" fill="#f2f9fd"/>
<rect x="133" y="402" width="59" height="14" fill="#a4dcf6"/>
<rect x="133" y="416" width="30" height="15" fill="#f2f9fd"/>
<rect x="163" y="416" width="29" height="15" fill="#a4dcf6"/>
<rect x="133" y="431" width="59" height="14" fill="#a4dcf6"/>
<rect x="148" y="445" width="44" height="15" fill="#3f82c3"/>
<rect x="148" y="460" width="29" height="14" fill="#3f82c3"/>
<rect x="177" y="460" width="15" height="14" fill="#a4dcf6"/>
<rect x="148" y="474" width="15" height="15" fill="#a4dcf6"/>
<rect x="163" y="474" width="14" height="15" fill="#3f82c3"/></g>
<g transform="translate(0,0)">
<use href="#gov"/><use href="#coast"/>
<text x="28.9" y="48.8" font-size="10.5">TRMM 3B42RT</text>
<text x="274.2" y="48.8" font-size="10.2" text-anchor="end">run=1</text>
<text x="15.3" y="215.6" font-size="8.3" text-anchor="end">35N</text>
<text x="177.3" y="515.3" font-size="8.3" text-anchor="middle">10E</text>
</g>
<g fill="none" stroke="#000">
<rect x="28.85" y="70.25" width="244.28" height="424.15" stroke-width="1.05"/>
<path d="M60.5,70.25v-4.6M60.5,494.4v4.6M119.5,70.25v-4.6M119.5,494.4v4.6M235.5,70.25v-4.6M235.5,494.4v4.6M28.85,445.5h-4.6M273.13,445.5h4.6M28.85,387.5h-4.6M273.13,387.5h4.6M28.85,328.5h-4.6M273.13,328.5h4.6M28.85,270.5h-4.6M273.13,270.5h4.6M28.85,154.5h-4.6M273.13,154.5h4.6M28.85,96.5h-4.6M273.13,96.5h4.6" stroke-width="0.6"/>
<path d="M177.5,70.25v-8.8M177.5,494.4v8.8M28.85,212.5h-8.8M273.13,212.5h8.8" stroke-width="1"/>
</g>
<g shape-rendering="crispEdges"><rect x="406" y="82" width="14" height="14" fill="#fff9e4"/>
<rect x="420" y="82" width="30" height="14" fill="#fdb63e"/>
<rect x="450" y="82" width="14" height="14" fill="#fff9e4"/>
<rect x="464" y="82" width="15" height="14" fill="#f2f9fd"/>
<rect x="391" y="96" width="15" height="15" fill="#fff9e4"/>
<rect x="406" y="96" width="14" height="15" fill="#fdb63e"/>
<rect x="420" y="96" width="15" height="15" fill="#fff9e4"/>
<rect x="435" y="96" width="29" height="15" fill="#fdb63e"/>
<rect x="464" y="96" width="15" height="15" fill="#fff9e4"/>
<rect x="493" y="96" width="44" height="15" fill="#f2f9fd"/>
<rect x="377" y="111" width="14" height="14" fill="#fff9e4"/>
<rect x="391" y="111" width="15" height="14" fill="#f2f9fd"/>
<rect x="406" y="111" width="73" height="14" fill="#fff9e4"/>
<rect x="479" y="111" width="14" height="14" fill="#fdb63e"/>
<rect x="493" y="111" width="15" height="14" fill="#fff9e4"/>
<rect x="508" y="111" width="14" height="14" fill="#f2f9fd"/>
<rect x="377" y="125" width="102" height="15" fill="#fff9e4"/>
<rect x="479" y="125" width="14" height="15" fill="#f2f9fd"/>
<rect x="362" y="140" width="88" height="14" fill="#fff9e4"/>
<rect x="450" y="140" width="29" height="14" fill="#fdb63e"/>
<rect x="479" y="140" width="14" height="14" fill="#fff9e4"/>
<rect x="362" y="154" width="102" height="15" fill="#fff9e4"/>
<rect x="464" y="154" width="15" height="15" fill="#f2f9fd"/>
<rect x="479" y="154" width="14" height="15" fill="#fff9e4"/>
<rect x="362" y="169" width="73" height="14" fill="#fff9e4"/>
<rect x="435" y="169" width="15" height="14" fill="#fdb63e"/>
<rect x="450" y="169" width="43" height="14" fill="#fff9e4"/>
<rect x="493" y="169" width="15" height="14" fill="#f2f9fd"/>
<rect x="508" y="169" width="14" height="14" fill="#fff9e4"/>
<rect x="362" y="183" width="29" height="15" fill="#f2f9fd"/>
<rect x="391" y="183" width="29" height="15" fill="#fff9e4"/>
<rect x="420" y="183" width="15" height="15" fill="#fdb63e"/>
<rect x="435" y="183" width="58" height="15" fill="#fff9e4"/>
<rect x="493" y="183" width="15" height="15" fill="#f2f9fd"/>
<rect x="508" y="183" width="14" height="15" fill="#fff9e4"/>
<rect x="377" y="198" width="58" height="14" fill="#f2f9fd"/>
<rect x="435" y="198" width="29" height="14" fill="#fff9e4"/>
<rect x="464" y="198" width="44" height="14" fill="#f2f9fd"/>
<rect x="508" y="198" width="14" height="14" fill="#fff9e4"/>
<rect x="362" y="212" width="15" height="15" fill="#fff9e4"/>
<rect x="377" y="212" width="14" height="15" fill="#f2f9fd"/>
<rect x="391" y="212" width="15" height="15" fill="#a4dcf6"/>
<rect x="406" y="212" width="29" height="15" fill="#f2f9fd"/>
<rect x="435" y="212" width="15" height="15" fill="#fff9e4"/>
<rect x="450" y="212" width="14" height="15" fill="#fdb63e"/>
<rect x="464" y="212" width="15" height="15" fill="#fff9e4"/>
<rect x="479" y="212" width="14" height="15" fill="#f2f9fd"/>
<rect x="493" y="212" width="15" height="15" fill="#fff9e4"/>
<rect x="508" y="212" width="14" height="15" fill="#fdb63e"/>
<rect x="362" y="227" width="58" height="15" fill="#f2f9fd"/>
<rect x="420" y="227" width="88" height="15" fill="#fff9e4"/>
<rect x="333" y="242" width="29" height="14" fill="#fff9e4"/>
<rect x="362" y="242" width="15" height="14" fill="#f2f9fd"/>
<rect x="377" y="242" width="14" height="14" fill="#a4dcf6"/>
<rect x="391" y="242" width="15" height="14" fill="#f2f9fd"/>
<rect x="406" y="242" width="73" height="14" fill="#fff9e4"/>
<rect x="319" y="256" width="29" height="15" fill="#fff9e4"/>
<rect x="348" y="256" width="29" height="15" fill="#f2f9fd"/>
<rect x="377" y="256" width="14" height="15" fill="#a4dcf6"/>
<rect x="391" y="256" width="29" height="15" fill="#f2f9fd"/>
<rect x="420" y="256" width="44" height="15" fill="#fff9e4"/>
<rect x="319" y="271" width="72" height="14" fill="#f2f9fd"/>
<rect x="391" y="271" width="15" height="14" fill="#a4dcf6"/>
<rect x="406" y="271" width="14" height="14" fill="#f2f9fd"/>
<rect x="420" y="271" width="15" height="14" fill="#a4dcf6"/>
<rect x="435" y="271" width="15" height="14" fill="#f2f9fd"/>
<rect x="450" y="271" width="14" height="14" fill="#fff9e4"/>
<rect x="464" y="271" width="15" height="14" fill="#f2f9fd"/>
<rect x="508" y="271" width="14" height="14" fill="#fff9e4"/>
<rect x="319" y="285" width="145" height="15" fill="#f2f9fd"/>
<rect x="464" y="285" width="29" height="15" fill="#fff9e4"/>
<rect x="493" y="285" width="15" height="15" fill="#fdb63e"/>
<rect x="333" y="300" width="58" height="14" fill="#f2f9fd"/>
<rect x="391" y="300" width="44" height="14" fill="#a4dcf6"/>
<rect x="435" y="300" width="29" height="14" fill="#f2f9fd"/>
<rect x="464" y="300" width="15" height="14" fill="#fff9e4"/>
<rect x="479" y="300" width="14" height="14" fill="#f2f9fd"/>
<rect x="493" y="300" width="29" height="14" fill="#fff9e4"/>
<rect x="522" y="300" width="15" height="14" fill="#f2f9fd"/>
<rect x="348" y="314" width="43" height="15" fill="#f2f9fd"/>
<rect x="391" y="314" width="44" height="15" fill="#a4dcf6"/>
<rect x="435" y="314" width="44" height="15" fill="#f2f9fd"/>
<rect x="479" y="314" width="14" height="15" fill="#a4dcf6"/>
<rect x="493" y="314" width="29" height="15" fill="#f2f9fd"/>
<rect x="522" y="314" width="29" height="15" fill="#fff9e4"/>
<rect x="362" y="329" width="29" height="14" fill="#f2f9fd"/>
<rect x="391" y="329" width="29" height="14" fill="#3f82c3"/>
<rect x="420" y="329" width="15" height="14" fill="#a4dcf6"/>
<rect x="435" y="329" width="87" height="14" fill="#f2f9fd"/>
<rect x="522" y="329" width="15" height="14" fill="#fff9e4"/>
<rect x="537" y="329" width="14" height="14" fill="#f2f9fd"/>
<rect x="362" y="343" width="131" height="15" fill="#a4dcf6"/>
<rect x="493" y="343" width="29" height="15" fill="#f2f9fd"/>
<rect x="522" y="343" width="29" height="15" fill="#fff9e4"/>
<rect x="377" y="358" width="14" height="14" fill="#a4dcf6"/>
<rect x="391" y="358" width="15" height="14" fill="#f2f9fd"/>
<rect x="406" y="358" width="87" height="14" fill="#a4dcf6"/>
<rect x="493" y="358" width="58" height="14" fill="#f2f9fd"/>
<rect x="406" y="372" width="29" height="15" fill="#a4dcf6"/>
<rect x="435" y="372" width="15" height="15" fill="#f2f9fd"/>
<rect x="450" y="372" width="29" height="15" fill="#a4dcf6"/>
<rect x="479" y="372" width="29" height="15" fill="#f2f9fd"/>
<rect x="508" y="372" width="14" height="15" fill="#fff9e4"/>
<rect x="420" y="387" width="15" height="15" fill="#a4dcf6"/>
<rect x="435" y="387" width="15" height="15" fill="#f2f9fd"/>
<rect x="450" y="387" width="29" height="15" fill="#a4dcf6"/>
<rect x="479" y="387" width="29" height="15" fill="#f2f9fd"/>
<rect x="420" y="402" width="15" height="14" fill="#f2f9fd"/>
<rect x="435" y="402" width="15" height="14" fill="#a4dcf6"/>
<rect x="450" y="402" width="14" height="14" fill="#f2f9fd"/>
<rect x="464" y="402" width="15" height="14" fill="#a4dcf6"/>
<rect x="420" y="416" width="59" height="15" fill="#f2f9fd"/>
<rect x="420" y="431" width="30" height="14" fill="#f2f9fd"/>
<rect x="450" y="431" width="29" height="14" fill="#a4dcf6"/>
<rect x="435" y="445" width="44" height="15" fill="#a4dcf6"/>
<rect x="435" y="460" width="15" height="14" fill="#3f82c3"/>
<rect x="450" y="460" width="29" height="14" fill="#a4dcf6"/>
<rect x="435" y="474" width="29" height="15" fill="#a4dcf6"/></g>
<g transform="translate(286.75,0)">
<use href="#gov"/><use href="#coast"/>
<text x="28.9" y="48.8" font-size="10.5">TRMM 3B42RT</text>
<text x="274.2" y="48.8" font-size="10.2" text-anchor="end">run=3</text>
<text x="15.3" y="215.6" font-size="8.3" text-anchor="end">35N</text>
<text x="177.3" y="515.3" font-size="8.3" text-anchor="middle">10E</text>
</g>
<g fill="none" stroke="#000">
<rect x="315.6" y="70.25" width="244.28" height="424.15" stroke-width="1.05"/>
<path d="M347.5,70.25v-4.6M347.5,494.4v4.6M405.5,70.25v-4.6M405.5,494.4v4.6M522.5,70.25v-4.6M522.5,494.4v4.6M315.6,445.5h-4.6M559.88,445.5h4.6M315.6,387.5h-4.6M559.88,387.5h4.6M315.6,328.5h-4.6M559.88,328.5h4.6M315.6,270.5h-4.6M559.88,270.5h4.6M315.6,154.5h-4.6M559.88,154.5h4.6M315.6,96.5h-4.6M559.88,96.5h4.6" stroke-width="0.6"/>
<path d="M463.5,70.25v-8.8M463.5,494.4v8.8M315.6,212.5h-8.8M559.88,212.5h8.8" stroke-width="1"/>
</g>
<g shape-rendering="crispEdges"><rect x="119" y="566" width="58" height="14" fill="#fdb63e"/>
<rect x="177" y="566" width="15" height="14" fill="#fff9e4"/>
<rect x="104" y="580" width="73" height="15" fill="#fdb63e"/>
<rect x="177" y="580" width="15" height="15" fill="#fff9e4"/>
<rect x="206" y="580" width="44" height="15" fill="#f2f9fd"/>
<rect x="90" y="595" width="14" height="14" fill="#fdb63e"/>
<rect x="104" y="595" width="88" height="14" fill="#fff9e4"/>
<rect x="192" y="595" width="29" height="14" fill="#f2f9fd"/>
<rect x="221" y="595" width="14" height="14" fill="#a4dcf6"/>
<rect x="90" y="609" width="14" height="15" fill="#fdb63e"/>
<rect x="104" y="609" width="88" height="15" fill="#fff9e4"/>
<rect x="192" y="609" width="14" height="15" fill="#f2f9fd"/>
<rect x="75" y="624" width="15" height="14" fill="#fdb63e"/>
<rect x="90" y="624" width="87" height="14" fill="#fff9e4"/>
<rect x="177" y="624" width="15" height="14" fill="#fdb63e"/>
<rect x="192" y="624" width="14" height="14" fill="#fff9e4"/>
<rect x="75" y="638" width="131" height="15" fill="#fff9e4"/>
<rect x="75" y="653" width="131" height="14" fill="#fff9e4"/>
<rect x="206" y="653" width="15" height="14" fill="#f2f9fd"/>
<rect x="221" y="653" width="14" height="14" fill="#fff9e4"/>
<rect x="75" y="667" width="29" height="15" fill="#f2f9fd"/>
<rect x="104" y="667" width="29" height="15" fill="#fff9e4"/>
<rect x="133" y="667" width="15" height="15" fill="#fdb63e"/>
<rect x="148" y="667" width="58" height="15" fill="#fff9e4"/>
<rect x="206" y="667" width="15" height="15" fill="#f2f9fd"/>
<rect x="221" y="667" width="14" height="15" fill="#fff9e4"/>
<rect x="90" y="682" width="43" height="14" fill="#f2f9fd"/>
<rect x="133" y="682" width="88" height="14" fill="#fff9e4"/>
<rect x="221" y="682" width="14" height="14" fill="#fdb63e"/>
<rect x="75" y="696" width="15" height="15" fill="#fff9e4"/>
<rect x="90" y="696" width="58" height="15" fill="#f2f9fd"/>
<rect x="148" y="696" width="73" height="15" fill="#fff9e4"/>
<rect x="221" y="696" width="14" height="15" fill="#fdb63e"/>
<rect x="75" y="711" width="15" height="14" fill="#fff9e4"/>
<rect x="90" y="711" width="29" height="14" fill="#f2f9fd"/>
<rect x="119" y="711" width="73" height="14" fill="#fff9e4"/>
<rect x="192" y="711" width="29" height="14" fill="#fdb63e"/>
<rect x="46" y="725" width="15" height="15" fill="#fff9e4"/>
<rect x="61" y="725" width="58" height="15" fill="#f2f9fd"/>
<rect x="119" y="725" width="73" height="15" fill="#fff9e4"/>
<rect x="32" y="740" width="29" height="15" fill="#fff9e4"/>
<rect x="61" y="740" width="72" height="15" fill="#f2f9fd"/>
<rect x="133" y="740" width="30" height="15" fill="#fff9e4"/>
<rect x="163" y="740" width="14" height="15" fill="#f2f9fd"/>
<rect x="32" y="755" width="14" height="14" fill="#f2f9fd"/>
<rect x="46" y="755" width="29" height="14" fill="#fff9e4"/>
<rect x="75" y="755" width="102" height="14" fill="#f2f9fd"/>
<rect x="177" y="755" width="15" height="14" fill="#fff9e4"/>
<rect x="221" y="755" width="14" height="14" fill="#fdb63e"/>
<rect x="32" y="769" width="43" height="15" fill="#f2f9fd"/>
<rect x="75" y="769" width="15" height="15" fill="#fff9e4"/>
<rect x="90" y="769" width="87" height="15" fill="#f2f9fd"/>
<rect x="177" y="769" width="15" height="15" fill="#fff9e4"/>
<rect x="192" y="769" width="29" height="15" fill="#fdb63e"/>
<rect x="46" y="784" width="29" height="14" fill="#f2f9fd"/>
<rect x="75" y="784" width="15" height="14" fill="#fff9e4"/>
<rect x="90" y="784" width="87" height="14" fill="#f2f9fd"/>
<rect x="177" y="784" width="15" height="14" fill="#fff9e4"/>
<rect x="192" y="784" width="14" height="14" fill="#fdb63e"/>
<rect x="206" y="784" width="29" height="14" fill="#e64c29"/>
<rect x="235" y="784" width="15" height="14" fill="#fff9e4"/>
<rect x="61" y="798" width="174" height="15" fill="#f2f9fd"/>
<rect x="235" y="798" width="29" height="15" fill="#fdb63e"/>
<rect x="75" y="813" width="29" height="14" fill="#f2f9fd"/>
<rect x="104" y="813" width="15" height="14" fill="#a4dcf6"/>
<rect x="119" y="813" width="87" height="14" fill="#f2f9fd"/>
<rect x="206" y="813" width="15" height="14" fill="#a4dcf6"/>
<rect x="221" y="813" width="14" height="14" fill="#f2f9fd"/>
<rect x="235" y="813" width="29" height="14" fill="#fff9e4"/>
<rect x="75" y="827" width="29" height="15" fill="#f2f9fd"/>
<rect x="104" y="827" width="15" height="15" fill="#a4dcf6"/>
<rect x="119" y="827" width="29" height="15" fill="#f2f9fd"/>
<rect x="148" y="827" width="73" height="15" fill="#a4dcf6"/>
<rect x="221" y="827" width="14" height="15" fill="#f2f9fd"/>
<rect x="235" y="827" width="29" height="15" fill="#fff9e4"/>
<rect x="90" y="842" width="29" height="14" fill="#f2f9fd"/>
<rect x="119" y="842" width="73" height="14" fill="#a4dcf6"/>
<rect x="192" y="842" width="14" height="14" fill="#f2f9fd"/>
<rect x="206" y="842" width="58" height="14" fill="#fff9e4"/>
<rect x="119" y="856" width="73" height="15" fill="#a4dcf6"/>
<rect x="192" y="856" width="14" height="15" fill="#fff9e4"/>
<rect x="206" y="856" width="15" height="15" fill="#f2f9fd"/>
<rect x="221" y="856" width="14" height="15" fill="#fff9e4"/>
<rect x="133" y="871" width="59" height="14" fill="#a4dcf6"/>
<rect x="192" y="871" width="29" height="14" fill="#f2f9fd"/>
<rect x="133" y="885" width="44" height="15" fill="#a4dcf6"/>
<rect x="177" y="885" width="15" height="15" fill="#f2f9fd"/>
<rect x="133" y="900" width="30" height="15" fill="#a4dcf6"/>
<rect x="163" y="900" width="29" height="15" fill="#f2f9fd"/>
<rect x="133" y="915" width="59" height="14" fill="#f2f9fd"/>
<rect x="148" y="929" width="15" height="15" fill="#a4dcf6"/>
<rect x="163" y="929" width="29" height="15" fill="#f2f9fd"/>
<rect x="148" y="944" width="15" height="14" fill="#a4dcf6"/>
<rect x="163" y="944" width="29" height="14" fill="#f2f9fd"/>
<rect x="148" y="958" width="29" height="15" fill="#f2f9fd"/></g>
<g transform="translate(0,483.9)">
<use href="#gov"/><use href="#coast"/>
<text x="28.9" y="48.8" font-size="10.5">TRMM 3B42RT</text>
<text x="274.2" y="48.8" font-size="10.2" text-anchor="end">run=6</text>
<text x="15.3" y="215.6" font-size="8.3" text-anchor="end">35N</text>
<text x="177.3" y="515.3" font-size="8.3" text-anchor="middle">10E</text>
</g>
<g fill="none" stroke="#000">
<rect x="28.85" y="554.15" width="244.28" height="424.15" stroke-width="1.05"/>
<path d="M60.5,554.15v-4.6M60.5,978.3v4.6M119.5,554.15v-4.6M119.5,978.3v4.6M235.5,554.15v-4.6M235.5,978.3v4.6M28.85,929.5h-4.6M273.13,929.5h4.6M28.85,870.5h-4.6M273.13,870.5h4.6M28.85,812.5h-4.6M273.13,812.5h4.6M28.85,754.5h-4.6M273.13,754.5h4.6M28.85,638.5h-4.6M273.13,638.5h4.6M28.85,580.5h-4.6M273.13,580.5h4.6" stroke-width="0.6"/>
<path d="M177.5,554.15v-8.8M177.5,978.3v8.8M28.85,696.5h-8.8M273.13,696.5h8.8" stroke-width="1"/>
</g>
<g shape-rendering="crispEdges"><rect x="406" y="566" width="29" height="14" fill="#f2f9fd"/>
<rect x="435" y="566" width="15" height="14" fill="#fff9e4"/>
<rect x="450" y="566" width="14" height="14" fill="#f2f9fd"/>
<rect x="464" y="566" width="15" height="14" fill="#a4dcf6"/>
<rect x="391" y="580" width="29" height="15" fill="#f2f9fd"/>
<rect x="420" y="580" width="30" height="15" fill="#fff9e4"/>
<rect x="450" y="580" width="14" height="15" fill="#f2f9fd"/>
<rect x="464" y="580" width="15" height="15" fill="#a4dcf6"/>
<rect x="493" y="580" width="15" height="15" fill="#a4dcf6"/>
<rect x="508" y="580" width="14" height="15" fill="#f2f9fd"/>
<rect x="522" y="580" width="15" height="15" fill="#a4dcf6"/>
<rect x="377" y="595" width="14" height="14" fill="#fff9e4"/>
<rect x="391" y="595" width="15" height="14" fill="#f2f9fd"/>
<rect x="406" y="595" width="58" height="14" fill="#fff9e4"/>
<rect x="464" y="595" width="15" height="14" fill="#f2f9fd"/>
<rect x="479" y="595" width="14" height="14" fill="#fff9e4"/>
<rect x="493" y="595" width="15" height="14" fill="#f2f9fd"/>
<rect x="508" y="595" width="14" height="14" fill="#a4dcf6"/>
<rect x="377" y="609" width="116" height="15" fill="#fff9e4"/>
<rect x="362" y="624" width="29" height="14" fill="#fff9e4"/>
<rect x="391" y="624" width="29" height="14" fill="#fdb63e"/>
<rect x="420" y="624" width="44" height="14" fill="#fff9e4"/>
<rect x="464" y="624" width="15" height="14" fill="#f2f9fd"/>
<rect x="479" y="624" width="14" height="14" fill="#fff9e4"/>
<rect x="362" y="638" width="29" height="15" fill="#f2f9fd"/>
<rect x="391" y="638" width="29" height="15" fill="#fff9e4"/>
<rect x="420" y="638" width="15" height="15" fill="#f2f9fd"/>
<rect x="435" y="638" width="15" height="15" fill="#fff9e4"/>
<rect x="450" y="638" width="43" height="15" fill="#f2f9fd"/>
<rect x="362" y="653" width="15" height="14" fill="#f2f9fd"/>
<rect x="377" y="653" width="14" height="14" fill="#a4dcf6"/>
<rect x="391" y="653" width="73" height="14" fill="#f2f9fd"/>
<rect x="464" y="653" width="15" height="14" fill="#a4dcf6"/>
<rect x="479" y="653" width="43" height="14" fill="#f2f9fd"/>
<rect x="362" y="667" width="44" height="15" fill="#a4dcf6"/>
<rect x="406" y="667" width="44" height="15" fill="#f2f9fd"/>
<rect x="450" y="667" width="14" height="15" fill="#fff9e4"/>
<rect x="464" y="667" width="44" height="15" fill="#f2f9fd"/>
<rect x="508" y="667" width="14" height="15" fill="#fff9e4"/>
<rect x="377" y="682" width="43" height="14" fill="#a4dcf6"/>
<rect x="420" y="682" width="44" height="14" fill="#f2f9fd"/>
<rect x="464" y="682" width="15" height="14" fill="#fff9e4"/>
<rect x="479" y="682" width="29" height="14" fill="#f2f9fd"/>
<rect x="508" y="682" width="14" height="14" fill="#fff9e4"/>
<rect x="362" y="696" width="29" height="15" fill="#a4dcf6"/>
<rect x="391" y="696" width="15" height="15" fill="#3f82c3"/>
<rect x="406" y="696" width="14" height="15" fill="#a4dcf6"/>
<rect x="420" y="696" width="73" height="15" fill="#f2f9fd"/>
<rect x="493" y="696" width="29" height="15" fill="#fff9e4"/>
<rect x="362" y="711" width="58" height="14" fill="#a4dcf6"/>
<rect x="420" y="711" width="59" height="14" fill="#f2f9fd"/>
<rect x="479" y="711" width="29" height="14" fill="#fff9e4"/>
<rect x="333" y="725" width="15" height="15" fill="#f2f9fd"/>
<rect x="348" y="725" width="43" height="15" fill="#a4dcf6"/>
<rect x="391" y="725" width="88" height="15" fill="#f2f9fd"/>
<rect x="319" y="740" width="72" height="15" fill="#a4dcf6"/>
<rect x="391" y="740" width="73" height="15" fill="#f2f9fd"/>
<rect x="319" y="755" width="43" height="14" fill="#a4dcf6"/>
<rect x="362" y="755" width="29" height="14" fill="#f2f9fd"/>
<rect x="391" y="755" width="15" height="14" fill="#a4dcf6"/>
<rect x="406" y="755" width="73" height="14" fill="#f2f9fd"/>
<rect x="508" y="755" width="14" height="14" fill="#fff9e4"/>
<rect x="319" y="769" width="14" height="15" fill="#a4dcf6"/>
<rect x="333" y="769" width="87" height="15" fill="#f2f9fd"/>
<rect x="420" y="769" width="15" height="15" fill="#fff9e4"/>
<rect x="435" y="769" width="15" height="15" fill="#f2f9fd"/>
<rect x="450" y="769" width="14" height="15" fill="#a4dcf6"/>
<rect x="464" y="769" width="15" height="15" fill="#f2f9fd"/>
<rect x="479" y="769" width="29" height="15" fill="#fff9e4"/>
<rect x="333" y="784" width="29" height="14" fill="#f2f9fd"/>
<rect x="362" y="784" width="15" height="14" fill="#fff9e4"/>
<rect x="377" y="784" width="102" height="14" fill="#f2f9fd"/>
<rect x="479" y="784" width="29" height="14" fill="#fff9e4"/>
<rect x="508" y="784" width="14" height="14" fill="#fdb63e"/>
<rect x="522" y="784" width="15" height="14" fill="#fff9e4"/>
<rect x="348" y="798" width="87" height="15" fill="#f2f9fd"/>
<rect x="435" y="798" width="87" height="15" fill="#a4dcf6"/>
<rect x="522" y="798" width="29" height="15" fill="#fff9e4"/>
<rect x="362" y="813" width="44" height="14" fill="#f2f9fd"/>
<rect x="406" y="813" width="29" height="14" fill="#a4dcf6"/>
<rect x="435" y="813" width="58" height="14" fill="#f2f9fd"/>
<rect x="493" y="813" width="29" height="14" fill="#a4dcf6"/>
<rect x="522" y="813" width="29" height="14" fill="#f2f9fd"/>
<rect x="362" y="827" width="15" height="15" fill="#a4dcf6"/>
<rect x="377" y="827" width="14" height="15" fill="#f2f9fd"/>
<rect x="391" y="827" width="44" height="15" fill="#a4dcf6"/>
<rect x="435" y="827" width="29" height="15" fill="#f2f9fd"/>
<rect x="464" y="827" width="73" height="15" fill="#a4dcf6"/>
<rect x="537" y="827" width="14" height="15" fill="#f2f9fd"/>
<rect x="377" y="842" width="29" height="14" fill="#f2f9fd"/>
<rect x="406" y="842" width="87" height="14" fill="#a4dcf6"/>
<rect x="493" y="842" width="44" height="14" fill="#fff9e4"/>
<rect x="537" y="842" width="14" height="14" fill="#f2f9fd"/>
<rect x="406" y="856" width="58" height="15" fill="#a4dcf6"/>
<rect x="464" y="856" width="44" height="15" fill="#f2f9fd"/>
<rect x="508" y="856" width="14" height="15" fill="#fff9e4"/>
<rect x="420" y="871" width="44" height="14" fill="#a4dcf6"/>
<rect x="464" y="871" width="15" height="14" fill="#f2f9fd"/>
<rect x="479" y="871" width="14" height="14" fill="#a4dcf6"/>
<rect x="493" y="871" width="15" height="14" fill="#f2f9fd"/>
<rect x="420" y="885" width="44" height="15" fill="#a4dcf6"/>
<rect x="464" y="885" width="15" height="15" fill="#f2f9fd"/>
<rect x="420" y="900" width="15" height="15" fill="#f2f9fd"/>
<rect x="435" y="900" width="15" height="15" fill="#a4dcf6"/>
<rect x="450" y="900" width="29" height="15" fill="#f2f9fd"/>
<rect x="420" y="915" width="30" height="14" fill="#a4dcf6"/>
<rect x="450" y="915" width="29" height="14" fill="#f2f9fd"/>
<rect x="435" y="929" width="15" height="15" fill="#a4dcf6"/>
<rect x="450" y="929" width="14" height="15" fill="#f2f9fd"/>
<rect x="464" y="929" width="15" height="15" fill="#a4dcf6"/>
<rect x="435" y="944" width="15" height="14" fill="#a4dcf6"/>
<rect x="450" y="944" width="29" height="14" fill="#f2f9fd"/>
<rect x="435" y="958" width="15" height="15" fill="#a4dcf6"/>
<rect x="450" y="958" width="14" height="15" fill="#f2f9fd"/></g>
<g transform="translate(286.75,483.9)">
<use href="#gov"/><use href="#coast"/>
<text x="28.9" y="48.8" font-size="10.5">TRMM 3B42RT</text>
<text x="274.2" y="48.8" font-size="10.2" text-anchor="end">run=12</text>
<text x="15.3" y="215.6" font-size="8.3" text-anchor="end">35N</text>
<text x="177.3" y="515.3" font-size="8.3" text-anchor="middle">10E</text>
</g>
<g fill="none" stroke="#000">
<rect x="315.6" y="554.15" width="244.28" height="424.15" stroke-width="1.05"/>
<path d="M347.5,554.15v-4.6M347.5,978.3v4.6M405.5,554.15v-4.6M405.5,978.3v4.6M522.5,554.15v-4.6M522.5,978.3v4.6M315.6,929.5h-4.6M559.88,929.5h4.6M315.6,870.5h-4.6M559.88,870.5h4.6M315.6,812.5h-4.6M559.88,812.5h4.6M315.6,754.5h-4.6M559.88,754.5h4.6M315.6,638.5h-4.6M559.88,638.5h4.6M315.6,580.5h-4.6M559.88,580.5h4.6" stroke-width="0.6"/>
<path d="M463.5,554.15v-8.8M463.5,978.3v8.8M315.6,696.5h-8.8M559.88,696.5h8.8" stroke-width="1"/>
</g>
<rect x="594.95" y="288.5" width="27.15" height="58.1" fill="#1c2b62" stroke="#222" stroke-width="0.6"/>
<rect x="594.95" y="346.6" width="27.15" height="57.82" fill="#3f82c3" stroke="#222" stroke-width="0.6"/>
<rect x="594.95" y="404.42" width="27.15" height="57.82" fill="#a4dcf6" stroke="#222" stroke-width="0.6"/>
<rect x="594.95" y="462.24" width="27.15" height="57.82" fill="#f2f9fd" stroke="#222" stroke-width="0.6"/>
<rect x="594.95" y="520.06" width="27.15" height="57.82" fill="#fff9e4" stroke="#222" stroke-width="0.6"/>
<rect x="594.95" y="577.88" width="27.15" height="57.82" fill="#fdb63e" stroke="#222" stroke-width="0.6"/>
<rect x="594.95" y="635.7" width="27.15" height="57.82" fill="#e64c29" stroke="#222" stroke-width="0.6"/>
<rect x="594.95" y="693.52" width="27.15" height="57.78" fill="#93151b" stroke="#222" stroke-width="0.6"/>
<text x="645.2" y="350.6" font-size="10.7" text-anchor="middle">3</text>
<text x="645.2" y="408.42" font-size="10.7" text-anchor="middle">2</text>
<text x="645.2" y="466.24" font-size="10.7" text-anchor="middle">1</text>
<text x="645.2" y="524.06" font-size="10.7" text-anchor="middle">0</text>
<text x="645.6" y="581.88" font-size="10.7" text-anchor="middle">-1</text>
<text x="645.6" y="639.7" font-size="10.7" text-anchor="middle">-2</text>
<text x="645.6" y="697.52" font-size="10.7" text-anchor="middle">-3</text>
</svg>
</body></html>
